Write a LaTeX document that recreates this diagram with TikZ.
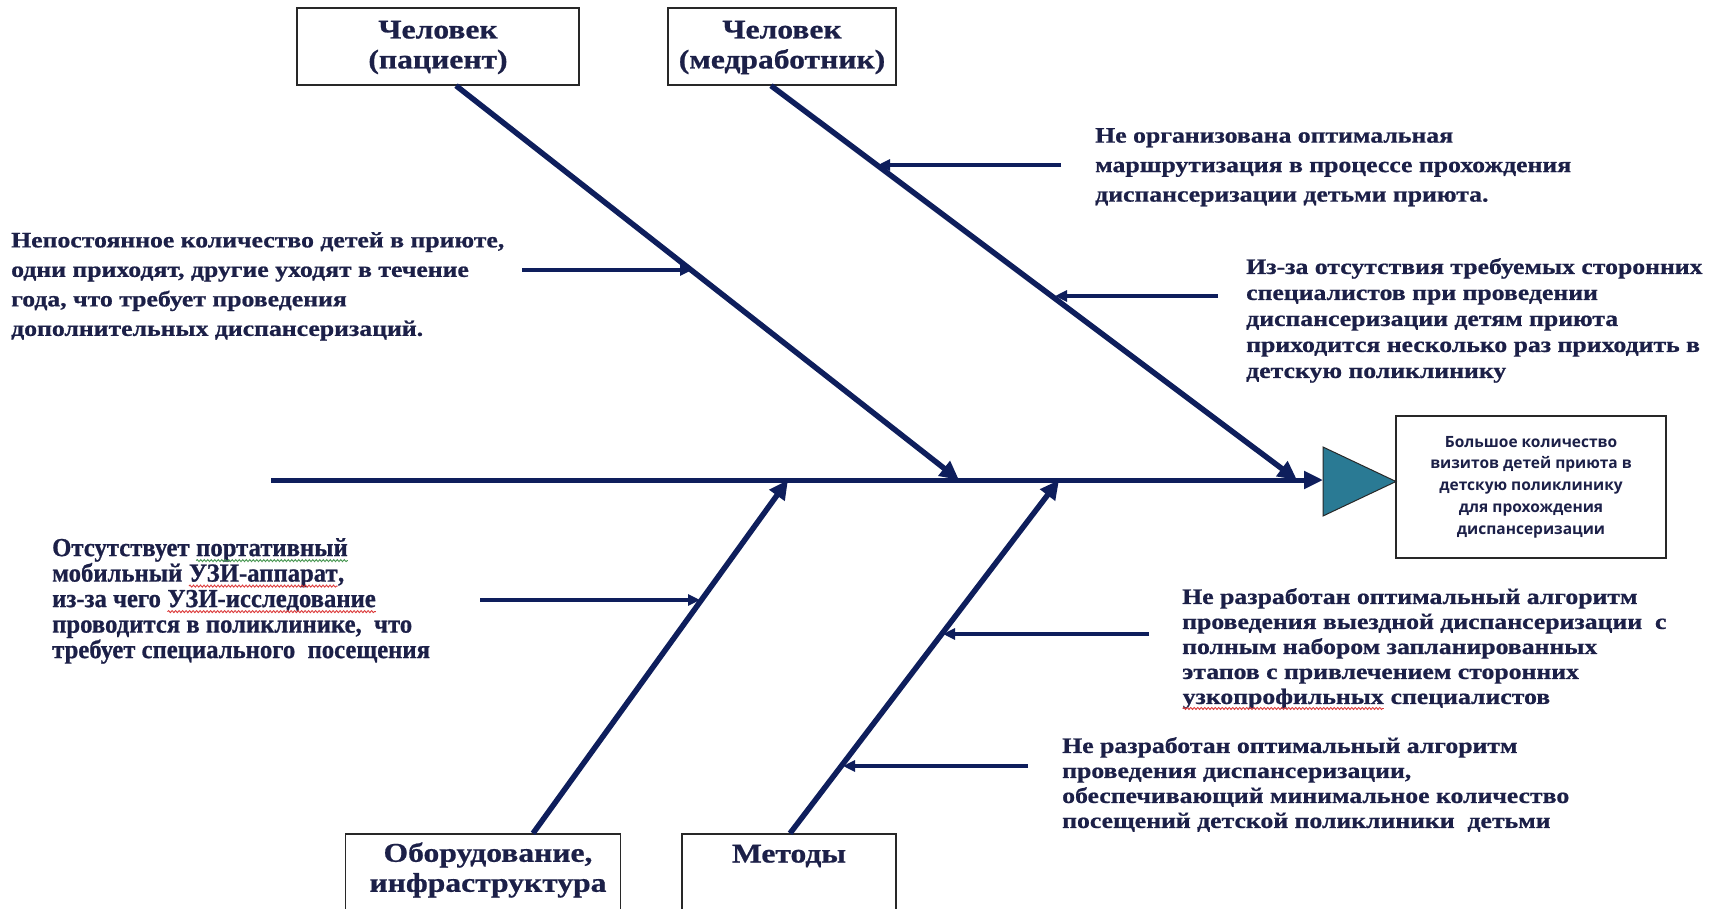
\documentclass[tikz,border=0pt]{standalone}
\usepackage{fontspec}
\setmainfont{Liberation Serif}[BoldFeatures={FakeBold=0.8}]
\newfontfamily\wideserif{Liberation Serif}[FakeStretch=1.17,BoldFeatures={FakeBold=0.8}]
\newfontfamily\narrowserif{Liberation Serif}[FakeStretch=0.95,BoldFeatures={FakeBold=0.8}]
\newfontfamily\boxsans{Open Sans}
\usetikzlibrary{arrows.meta,decorations.pathmorphing}
\definecolor{navy}{RGB}{14,30,92}
\definecolor{txt}{RGB}{28,32,72}
\definecolor{boxc}{RGB}{40,40,40}
\definecolor{tealf}{RGB}{42,122,148}
\definecolor{wavred}{RGB}{220,60,60}
\definecolor{wavgreen}{RGB}{70,150,80}
\newcommand\wv[2]{\tikz[baseline=(wvw.base)]{\node[inner sep=0pt, outer sep=0pt] (wvw) {#2}; \draw[#1, line width=0.9pt, decorate, decoration={snake, amplitude=1pt, segment length=3.5pt}] ([yshift=-4.5pt]wvw.base west) -- ([yshift=-4.5pt]wvw.base east);}}
\tikzset{
  catbox/.style={draw=boxc, line width=1.3pt, fill=white, inner sep=0pt},
  cattext/.style={font={\wideserif\bfseries\fontsize{27}{30}\selectfont}, text=txt, align=center, inner sep=0pt},
  cause/.style={font={\wideserif\bfseries\fontsize{22}{29.5}\selectfont}, text=txt, align=left, anchor=north west, inner sep=0pt},
  branch/.style={draw=navy, line width=5.5pt, -{Triangle[length=19pt,width=18pt]}},
  spine/.style={draw=navy, line width=5pt, -{Triangle[length=19pt,width=17pt]}},
  smallarr/.style={draw=navy, line width=3.5pt, -{Triangle[length=12pt,width=11pt]}},
}
\begin{document}
\begin{tikzpicture}[x=1pt,y=-1pt]
\useasboundingbox[fill=white] (0,0) rectangle (1712,909);

% category boxes
\node[catbox, minimum width=282pt, minimum height=77pt] (pat) at (438,46.5) {};
\node[cattext] (patT) at ([yshift=-1pt]pat.center) {Человек\\(пациент)};
\node[catbox, minimum width=228pt, minimum height=77pt] (med) at (782,46.5) {};
\node[cattext] (medT) at ([yshift=-1pt]med.center) {Человек\\(медработник)};
\node[catbox, minimum width=275pt, minimum height=90pt] (equ) at (483,879) {};
\node[cattext] (equT) at (488,870) {Оборудование,\\инфраструктура};
\node[catbox, minimum width=214pt, minimum height=90pt] (met) at (789,879) {};
\node[cattext] (metT) at (789,856) {Методы};

% result
\node[catbox, minimum width=270pt, minimum height=142pt, font={\boxsans\bfseries\fontsize{15.5}{21.8}\selectfont}, text=txt, align=center] (res) at (1531,487)
  {Большое количество\\визитов детей приюта в\\детскую поликлинику\\для прохождения\\диспансеризации};
\filldraw[fill=tealf, draw=boxc, line width=1pt] (1323,447) -- (1396,481.5) -- (1323,516) -- cycle;
\coordinate (head) at (1323,480);

% spine
\coordinate (tail) at (271,480);
\draw[spine] (tail) -- (head);

% branch tips on the spine
\coordinate (t1) at (959,480);
\coordinate (t2) at (1297,480);
\coordinate (t3) at (788,480);
\coordinate (t4) at (1059,480);
\draw[branch] ([xshift=18pt]pat.south) -- (t1);
\draw[branch] ([xshift=-11pt]med.south) -- (t2);
\draw[branch] ([xshift=50pt]equ.north) -- (t3);
\draw[branch] ([xshift=1pt]met.north) -- (t4);

% small cause arrows
\coordinate (a1s) at (522,270);  \coordinate (a1e) at (692,270);
\coordinate (a2s) at (1061,165); \coordinate (a2e) at (878,165);
\coordinate (a3s) at (1218,296); \coordinate (a3e) at (1055,296);
\coordinate (a4s) at (480,600);  \coordinate (a4e) at (700,600);
\coordinate (a5s) at (1149,634); \coordinate (a5e) at (943,634);
\coordinate (a6s) at (1028,766); \coordinate (a6e) at (843,766);
\draw[smallarr] (a1s) -- (a1e);
\draw[smallarr] (a2s) -- (a2e);
\draw[smallarr] (a3s) -- (a3e);
\draw[smallarr] (a4s) -- (a4e);
\draw[smallarr] (a5s) -- (a5e);
\draw[smallarr] (a6s) -- (a6e);

% cause texts
\node[cause] (c1) at (11,232) {Непостоянное количество детей в приюте,\\одни приходят, другие уходят в течение\\года, что требует проведения\\дополнительных диспансеризаций.};
\node[cause] (c2) at (1095,128) {Не организована оптимальная\\маршрутизация в процессе прохождения\\диспансеризации детьми приюта.};
\node[cause, font={\wideserif\bfseries\fontsize{22}{26}\selectfont}] (c3) at (1246,258) {Из-за отсутствия требуемых сторонних\\специалистов при проведении\\диспансеризации детям приюта\\приходится несколько раз приходить в\\детскую поликлинику};
\node[cause, font={\narrowserif\bfseries\fontsize{26}{25.5}\selectfont}] (c4) at (52,538) {Отсутствует \wv{wavgreen}{портативный}\\мобильный \wv{wavred}{УЗИ-аппарат},\\из-за чего \wv{wavred}{УЗИ-исследование}\\проводится в поликлинике,~ что\\требует специального~ посещения};
\node[cause, font={\wideserif\bfseries\fontsize{22}{25}\selectfont}] (c5) at (1182,588) {Не разработан оптимальный алгоритм\\проведения выездной диспансеризации~ с\\полным набором запланированных\\этапов с привлечением сторонних\\\wv{wavred}{узкопрофильных} специалистов};
\node[cause, font={\wideserif\bfseries\fontsize{22}{25}\selectfont}] (c6) at (1062,737) {Не разработан оптимальный алгоритм\\проведения диспансеризации,\\обеспечивающий минимальное количество\\посещений детской поликлиники~ детьми};
\end{tikzpicture}
\end{document}
